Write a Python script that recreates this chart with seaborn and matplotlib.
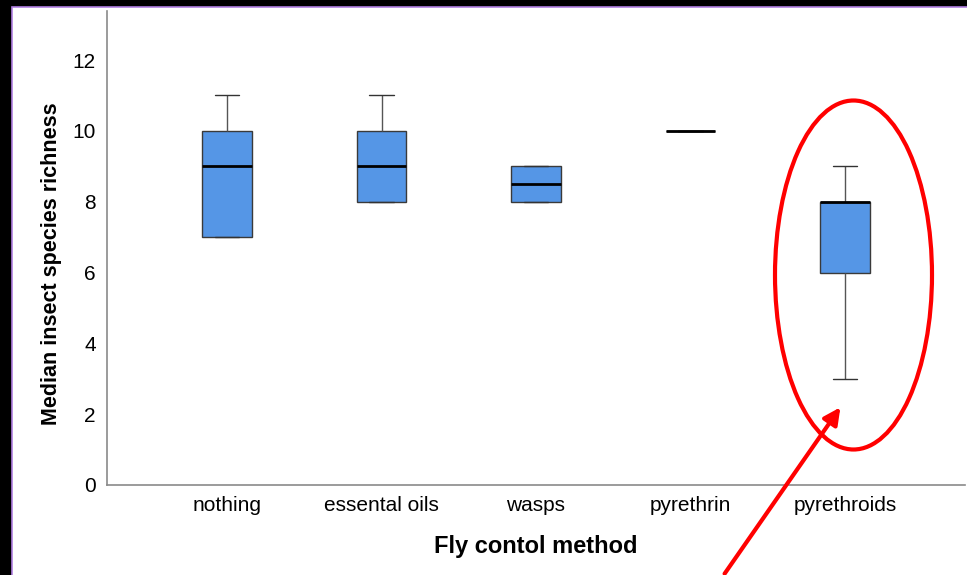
import pandas as pd
import matplotlib.pyplot as plt
import seaborn as sns
from matplotlib.patches import Ellipse, Rectangle, FancyArrowPatch

# valores (amostras que reproduzem quartis e bigodes)
metodos = ['nothing', 'essental oils', 'wasps', 'pyrethrin', 'pyrethroids']
nothing = [7, 7, 9, 10, 11]
essental_oils = [8, 8, 9, 10, 11]
wasps = [8, 8, 9, 9]
pyrethrin = [10, 10]
pyrethroids = [3, 6, 8, 8, 9]
y_ticks = [0, 2, 4, 6, 8, 10, 12]

grupos = [nothing, essental_oils, wasps, pyrethrin, pyrethroids]
df = pd.DataFrame({
    'metodo': [m for m, g in zip(metodos, grupos) for _ in g],
    'riqueza': [v for g in grupos for v in g],
})

sns.set_style('white')
plt.rcParams['font.family'] = ['Liberation Sans', 'DejaVu Sans']
plt.rcParams['text.color'] = 'black'
plt.rcParams['axes.labelcolor'] = 'black'
plt.rcParams['xtick.color'] = 'black'
plt.rcParams['ytick.color'] = 'black'

W, H = 967, 575
fig = plt.figure(figsize=(W / 100, H / 100), dpi=100)
fig.patch.set_facecolor('black')

# fundo branco com borda roxa fina
fig.add_artist(Rectangle((12 / W, -0.01), 1.01 - 12 / W, 1.01 - 7 / H, transform=fig.transFigure,
                         facecolor='white', edgecolor='#b07fe0', linewidth=1.2, zorder=0))

ax = fig.add_axes([107 / W, 90 / H, 858 / W, (485 - 11) / H])
ax.set_facecolor('none')

sns.boxplot(data=df, x='metodo', y='riqueza', order=metodos, ax=ax,
            color='#5596e6', saturation=1, width=0.32, linecolor='#3a3a3a', linewidth=1,
            showfliers=False,
            medianprops={'color': 'black', 'linewidth': 2},
            whiskerprops={'color': '#555555', 'linewidth': 1},
            capprops={'color': '#333333', 'linewidth': 1})

esp = 154.5
ax.set_xlim(-120 / esp, 4 + 120 / esp)
ax.set_ylim(0, (485 - 11) / ((485 - 60) / 12))
ax.set_yticks(y_ticks)
ax.tick_params(length=0, labelsize=15, pad=8)
ax.tick_params(axis='x', pad=8)
for s in ['top', 'right']:
    ax.spines[s].set_visible(False)
for s in ['left', 'bottom']:
    ax.spines[s].set_color('#8a8a8a')
    ax.spines[s].set_linewidth(1.2)

ax.set_xlabel('Fly contol method', fontsize=17, fontweight='bold', labelpad=14)
ax.set_ylabel('Median insect species richness', fontsize=15.5, fontweight='bold')
ax.yaxis.set_label_coords(-0.0524, 0.467)

# destaque em vermelho
fig.add_artist(Ellipse((853.5 / W, 1 - 275 / H), 157 / W, 349 / H, transform=fig.transFigure,
                       fill=False, edgecolor='red', linewidth=3, zorder=5))
fig.add_artist(FancyArrowPatch((723 / W, 1 - 576 / H), (842 / W, 1 - 405 / H),
                               transform=fig.transFigure, arrowstyle='-|>,head_length=10,head_width=5',
                               color='red', linewidth=3, zorder=5))

fig.savefig('out.png', dpi=100, facecolor=fig.get_facecolor())
